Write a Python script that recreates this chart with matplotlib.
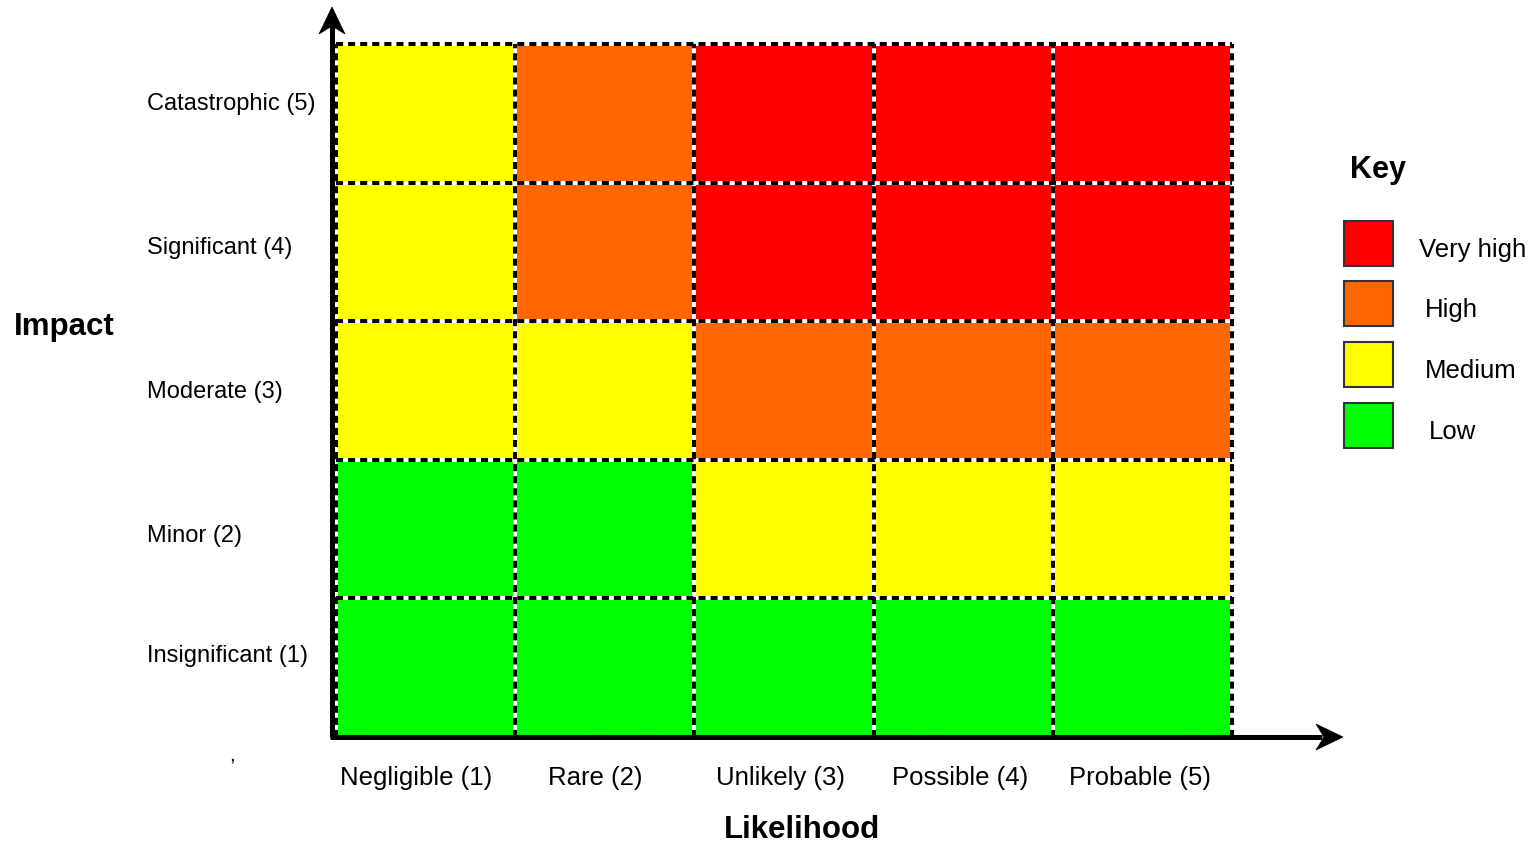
import numpy as np
import matplotlib.pyplot as plt
from matplotlib.colors import ListedColormap
from matplotlib.patches import Rectangle, Polygon

plt.rcParams['font.family'] = ['Liberation Sans', 'DejaVu Sans']

likelihood = ['Negligible (1)', 'Rare (2)', 'Unlikely (3)', 'Possible (4)', 'Probable (5)']
impact = ['Insignificant (1)', 'Minor (2)', 'Moderate (3)', 'Significant (4)', 'Catastrophic (5)']
levels = ['Low', 'Medium', 'High', 'Very high']
level_colors = ['#00ff00', '#ffff00', '#ff6600', '#ff0000']
# risk level per cell, rows = impact 1..5 (bottom to top), cols = likelihood 1..5
risk = np.array([
    [0, 0, 0, 0, 0],
    [0, 0, 1, 1, 1],
    [1, 1, 2, 2, 2],
    [1, 2, 3, 3, 3],
    [1, 2, 3, 3, 3],
])

W, H = 1537, 845
def px(x, y):
    return x / W, 1 - y / H

fig = plt.figure(figsize=(W / 100, H / 100), dpi=100)
ax = fig.add_axes([336 / W, (H - 738) / H, (1232 - 336) / W, (738 - 45) / H])
n = len(likelihood)
cmap = ListedColormap(level_colors)
ax.pcolormesh(np.arange(n + 1), np.arange(n + 1), risk, cmap=cmap, vmin=-0.5, vmax=3.5)
ax.set_xlim(0, n)
ax.set_ylim(0, n)
ax.axis('off')

# dashed cell borders
for k in range(n + 1):
    for (xs, ys) in [([k, k], [0, n]), ([0, n], [k, k])]:
        ax.plot(xs, ys, color='white', lw=2.9, clip_on=False, zorder=3)
        ax.plot(xs, ys, color='black', lw=2.9, ls=(0, (1.75, 1.25)), clip_on=False, zorder=4)

# axis lines with notched arrow heads
x0 = -0.022
ax.plot([x0, x0], [0, 5.14], color='black', lw=3.6, clip_on=False, zorder=5,
        solid_capstyle='butt')
ax.plot([x0 - 0.012, 5.5], [0, 0], color='black', lw=3.6, clip_on=False, zorder=5,
        solid_capstyle='butt')
heads = [
    [(332, 8), (319, 35), (332, 27), (345, 35)],
    [(1343, 738), (1316, 725), (1324, 738), (1316, 751)],
]
for pts in heads:
    fig.add_artist(Polygon([px(*p) for p in pts], closed=True, transform=fig.transFigure,
                           facecolor='black', edgecolor='black', lw=0.5, zorder=6))

# tick labels
ylab_y = [656, 536, 392, 248, 104]
for lab, yy in zip(impact, ylab_y):
    fig.text(*px(147, yy), lab, fontsize=17, ha='left', va='center')
xlab_x = [416, 595, 780, 960, 1140]
for lab, xx in zip(likelihood, xlab_x):
    fig.text(*px(xx, 778), lab, fontsize=18.5, ha='center', va='center')

fig.text(*px(64, 327), 'Impact', fontsize=22.5, fontweight='bold', ha='center', va='center')
fig.text(*px(802, 830), 'Likelihood', fontsize=22.5, fontweight='bold', ha='center', va='center')
fig.text(*px(232, 761), ',', fontsize=15, ha='center', va='baseline')

# key
fig.text(*px(1378, 170), 'Key', fontsize=22, fontweight='bold', ha='center', va='center')
key_y = [244, 304, 365, 426]
key_tx = [1419, 1425, 1425, 1429]
for i, lvl in enumerate(levels[::-1]):
    col = level_colors[::-1][i]
    cx, cy = px(1344, key_y[i] + 23)
    fig.add_artist(Rectangle((cx, cy), 49 / W, 45 / H, transform=fig.transFigure,
                             facecolor=col, edgecolor='#333333', lw=1.5))
    fig.text(*px(key_tx[i], key_y[i] + 6), lvl, fontsize=18.5, ha='left', va='center')

fig.savefig('out.png', dpi=100)
